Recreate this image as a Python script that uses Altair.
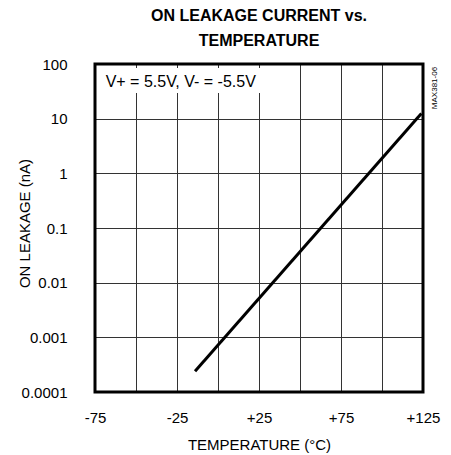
import altair as alt
import pandas as pd

# Data (straight line on log scale)
temperature = [-14, 124]
leakage_nA = [0.00024, 12.4]

x_ticks = [-75, -50, -25, 0, 25, 50, 75, 100, 125]
y_ticks = [0.0001, 0.001, 0.01, 0.1, 1, 10, 100]

x_domain = [-75, 125]
y_domain = [0.0001, 100]

note_text = ["V+ = 5.5V, V- = -5.5V"]
note_x = [-68.5]
note_y = [47]
box_x = [-73]
box_x2 = [27]
box_y = [29.5]
box_y2 = [84.5]

FONT = "Liberation Sans"

df = pd.DataFrame({"t": temperature, "leak": leakage_nA})
note_df = pd.DataFrame({"t": note_x, "leak": note_y, "label": note_text})
box_df = pd.DataFrame({"x": box_x, "x2": box_x2, "y": box_y, "y2": box_y2})
frame_df = pd.DataFrame({"x": [x_domain[0]], "x2": [x_domain[1]], "y": [y_domain[0]], "y2": [y_domain[1]]})

xscale = alt.Scale(domain=x_domain, nice=False, zero=False)
yscale = alt.Scale(type="log", domain=y_domain, nice=False)

xaxis = alt.Axis(
    values=x_ticks,
    labelExpr="(datum.value == -75 || datum.value == -25) ? '' + datum.value : ((datum.value == 25 || datum.value == 75 || datum.value == 125) ? '+' + datum.value : '')",
    title="TEMPERATURE (°C)",
    grid=True, gridColor="#333", gridWidth=1, gridOpacity=1,
    ticks=False, domain=False,
    labelFont=FONT, labelFontSize=15, labelColor="black", labelPadding=18,
    labelFlush=False, labelOverlap=False,
    titleFont=FONT, titleFontSize=15, titleFontWeight="normal", titleColor="black",
    titlePadding=12,
)
yaxis = alt.Axis(
    values=y_ticks,
    format="~g",
    title="ON LEAKAGE (nA)",
    grid=True, gridColor="#333", gridWidth=1, gridOpacity=1,
    ticks=False, domain=False,
    labelFont=FONT, labelFontSize=15, labelColor="black", labelPadding=28,
    labelFlush=False, labelOverlap=False,
    titleFont=FONT, titleFontSize=15, titleFontWeight="normal", titleColor="black",
    titleAngle=-90, titleX=-71, titleY=159, titleAlign="center", titleBaseline="middle",
)

line = alt.Chart(df).mark_line(color="black", strokeWidth=3, clip=True).encode(
    x=alt.X("t:Q", scale=xscale, axis=xaxis),
    y=alt.Y("leak:Q", scale=yscale, axis=yaxis),
)

box = alt.Chart(box_df).mark_rect(color="white", opacity=1).encode(
    x=alt.X("x:Q", scale=xscale), x2="x2:Q",
    y=alt.Y("y:Q", scale=yscale), y2="y2:Q",
)

frame = alt.Chart(frame_df).mark_rect(fill=None, fillOpacity=0, stroke="black", strokeWidth=3).encode(
    x=alt.X("x:Q", scale=xscale), x2="x2:Q",
    y=alt.Y("y:Q", scale=yscale), y2="y2:Q",
)

note = alt.Chart(note_df).mark_text(
    align="left", baseline="middle", font=FONT, fontSize=16, color="black"
).encode(
    x=alt.X("t:Q", scale=xscale),
    y=alt.Y("leak:Q", scale=yscale),
    text="label:N",
)

code = alt.Chart(pd.DataFrame({"c": ["MAX381-06"]})).mark_text(
    angle=270, align="center", baseline="middle", font=FONT, fontSize=8, color="black", clip=False
).encode(
    x=alt.value(340), y=alt.value(24), text="c:N"
)

chart = alt.layer(line, box, note, frame, code).properties(
    width=328,
    height=328,
    padding={"left": 87, "top": 56, "right": 20, "bottom": 62},
    autosize=alt.AutoSizeParams(type="none"),
    title=alt.TitleParams(
        text=["ON LEAKAGE CURRENT vs.", "TEMPERATURE"],
        font=FONT, fontSize=16, fontWeight="bold", color="black",
        lineHeight=25, anchor="middle", offset=8,
    ),
).configure_view(
    stroke=None
).configure(background="white")

chart.save("out.html", embed_options={"renderer": "svg", "actions": False})
